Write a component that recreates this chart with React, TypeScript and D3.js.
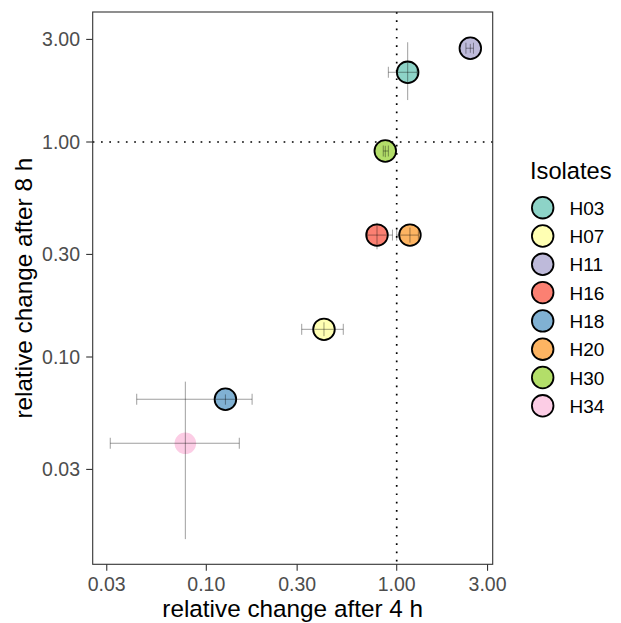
import React from "react";
import * as d3 from "d3";

const isolates = ["H03", "H07", "H11", "H16", "H18", "H20", "H30", "H34"];
const colors = ["#8DD3C7", "#FFFFB3", "#BEBADA", "#FB8072", "#80B1D3", "#FDB462", "#B3DE69", "#FCCDE5"];
const x4 = [1.142, 0.415, 2.436, 0.788, 0.126, 1.174, 0.871, 0.0776];
const x4lo = [0.904, 0.317, 2.31, 0.7, 0.0431, 1.0, 0.85, 0.0313];
const x4hi = [1.28, 0.524, 2.53, 0.95, 0.174, 1.3, 0.904, 0.149];
const y8 = [2.11, 0.1345, 2.73, 0.369, 0.0636, 0.369, 0.908, 0.0397];
const y8lo = [1.567, 0.125, 2.6, 0.317, 0.06, 0.34, 0.85, 0.01422];
const y8hi = [2.91, 0.145, 2.86, 0.421, 0.067, 0.4, 0.96, 0.0768];
const outlined = [true, true, true, true, true, true, true, false];
const ticks = [0.03, 0.1, 0.3, 1, 3];
const tickLabels = ["0.03", "0.10", "0.30", "1.00", "3.00"];

const W = 621, H = 623;
const L = 92.7, R = 492.7, T = 12, B = 564.3;
const font = "'Liberation Sans', Arial, sans-serif";

export default function App() {
  const x = d3.scaleLog().domain([0.02531, 3.193]).range([L, R]);
  const y = d3.scaleLog().domain([0.01086, 4.024]).range([B, T]);
  const cap = 5.5;
  const err = "rgba(0,0,0,0.38)";
  return (
    <svg width={W} height={H} style={{ position: "absolute", left: 0, top: 0, background: "#fff" }} fontFamily={font}>
      <rect x={0} y={0} width={W} height={H} fill="#fff" />
      {/* reference lines */}
      <line x1={x(1)} x2={x(1)} y1={T} y2={B} stroke="#000" strokeWidth={1.7} strokeDasharray="1.7 6.6" />
      <line x1={L} x2={R} y1={y(1)} y2={y(1)} stroke="#000" strokeWidth={1.7} strokeDasharray="1.7 6.6" />
      {/* points */}
      {isolates.map((k, i) => (
        <circle key={k} cx={x(x4[i])} cy={y(y8[i])} r={10.8} fill={colors[i]}
          stroke={outlined[i] ? "#000" : "none"} strokeWidth={1.8} />
      ))}
      {/* error bars */}
      {isolates.map((k, i) => (
        <g key={"e" + k} stroke={err} strokeWidth={1} fill="none">
          <line x1={x(x4[i])} x2={x(x4[i])} y1={y(y8lo[i])} y2={y(y8hi[i])} />
          <line x1={x(x4lo[i])} x2={x(x4hi[i])} y1={y(y8[i])} y2={y(y8[i])} />
          <line x1={x(x4lo[i])} x2={x(x4lo[i])} y1={y(y8[i]) - cap} y2={y(y8[i]) + cap} />
          <line x1={x(x4hi[i])} x2={x(x4hi[i])} y1={y(y8[i]) - cap} y2={y(y8[i]) + cap} />
        </g>
      ))}
      {/* panel border */}
      <rect x={L} y={T} width={R - L} height={B - T} fill="none" stroke="#333" strokeWidth={1.1} />
      {/* x ticks */}
      {ticks.map((t, i) => (
        <g key={"xt" + t}>
          <line x1={x(t)} x2={x(t)} y1={B} y2={B + 6.5} stroke="#333" strokeWidth={1.1} />
          <text x={x(t)} y={591} textAnchor="middle" fontSize={19.5} fill="#4D4D4D">{tickLabels[i]}</text>
        </g>
      ))}
      {/* y ticks */}
      {ticks.map((t, i) => (
        <g key={"yt" + t}>
          <line x1={L - 6.5} x2={L} y1={y(t)} y2={y(t)} stroke="#333" strokeWidth={1.1} />
          <text x={80} y={y(t) + 7} textAnchor="end" fontSize={19.5} fill="#4D4D4D">{tickLabels[i]}</text>
        </g>
      ))}
      {/* axis titles */}
      <text x={(L + R) / 2} y={617} textAnchor="middle" fontSize={24.3} fill="#000">relative change after 4 h</text>
      <text transform={`translate(32,${(T + B) / 2}) rotate(-90)`} textAnchor="middle" fontSize={24.3} fill="#000">relative change after 8 h</text>
      {/* legend */}
      <text x={530} y={179.3} fontSize={23.7} fill="#000">Isolates</text>
      {isolates.map((k, i) => (
        <g key={"lg" + k}>
          <circle cx={542.7} cy={207.7 + i * 28.3} r={10.8} fill={colors[i]} stroke="#000" strokeWidth={1.8} />
          <text x={569.5} y={207.7 + i * 28.3 + 7} fontSize={19} fill="#000">{k}</text>
        </g>
      ))}
    </svg>
  );
}
